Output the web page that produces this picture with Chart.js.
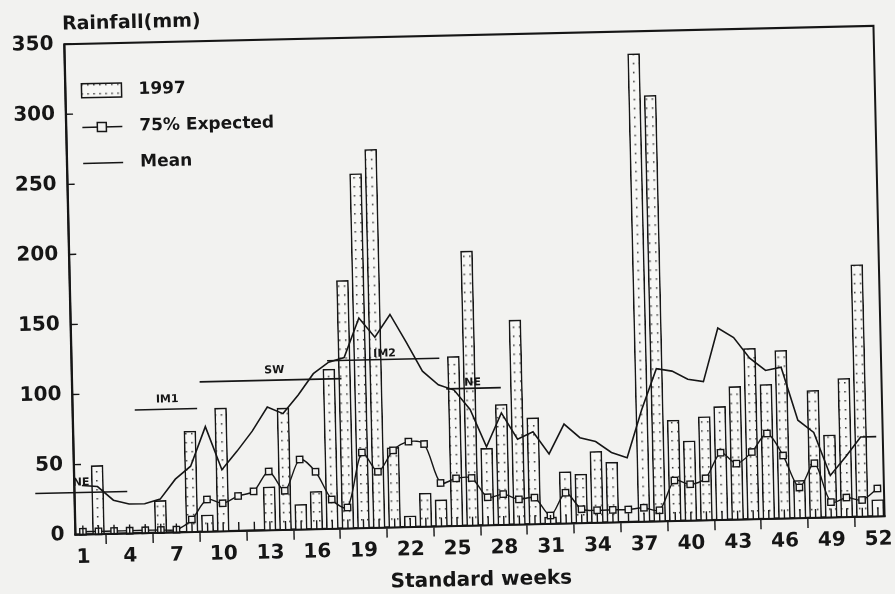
<!DOCTYPE html>
<html>
<head>
<meta charset="utf-8">
<title>Rainfall by standard week</title>
<script src="https://cdn.jsdelivr.net/npm/chart.js@4.4.1/dist/chart.umd.min.js"></script>
<style>
  html, body { margin: 0; padding: 0; background: #f2f2f0; }
  canvas { display: block; }
</style>
</head>
<body>
<canvas id="rain" width="895" height="594"></canvas>
<script>
// standard weeks and the three series
const weeks = [1, 2, 3, 4, 5, 6, 7, 8, 9, 10, 11, 12, 13, 14, 15, 16, 17, 18, 19, 20, 21, 22, 23, 24, 25, 26,
  27, 28, 29, 30, 31, 32, 33, 34, 35, 36, 37, 38, 39, 40, 41, 42, 43, 44, 45, 46, 47, 48, 49, 50, 51, 52]
const rain1997 = [0, 49, 0, 0, 0, 23, 0, 72, 12, 88, 0, 0, 31, 87, 18, 27, 114, 177, 253, 270, 57, 8, 24, 19, 121, 196,
  55, 86, 146, 76, 5, 37, 35, 51, 43, 0, 334, 304, 72, 57, 74, 81, 95, 122, 96, 120, 27, 91, 59, 99, 180, 12]
const expected75 = [2, 2, 2, 2, 2, 2, 2, 9, 23, 20, 25, 28, 42, 28, 50, 41, 21, 15, 54, 40, 55, 61, 59, 31, 34, 34,
  20, 22, 18, 19, 6, 22, 10, 9, 9, 9, 10, 8, 29, 26, 30, 48, 40, 48, 61, 45, 22, 39, 11, 14, 12, 20]
const meanRain = [35, 34, 24, 21, 21, 24, 38, 47, 75, 44, 57, 71, 88, 83, 96, 111, 119, 122, 150, 136, 152, 132, 111, 101, 97, 83,
  56, 80, 61, 66, 50, 71, 61, 58, 50, 46, 80, 109, 107, 101, 99, 137, 130, 115, 106, 108, 70, 61, 30, 43, 57, 57]

const weekTicks = [1, 4, 7, 10, 13, 16, 19, 22, 25, 28, 31, 34, 37, 40, 43, 46, 49, 52]
const rainTicks = [0, 50, 100, 150, 200, 250, 300, 350]

// monsoon season bars drawn over the plot (weeks, mm)
const seasonNames = ['NE', 'IM1', 'SW', 'IM2', 'NE']
const seasonStart = [-2.0, 4.5, 8.7, 16.9, 24.5]
const seasonEnd = [3.9, 8.5, 17.8, 24.1, 28.0]
const seasonLevel = [30, 88, 107, 120, 98]
const seasonTextWeek = [0.95, 6.6, 13.5, 20.6, 26.2]
const seasonTextLevel = [37, 95, 114, 124, 102]

const ink = '#161616'
const paper = '#f2f2f0'
const face = "'DejaVu Sans', sans-serif"
const tilt = -1.3 * Math.PI / 180   // the scan is slightly rotated

Chart.defaults.font.family = face
Chart.defaults.color = ink

const canvas = document.getElementById('rain')
const ctx = canvas.getContext('2d')

function dotPattern() {
  const c = document.createElement('canvas')
  c.width = 6
  c.height = 9
  const p = c.getContext('2d')
  p.fillStyle = '#f7f7f5'
  p.fillRect(0, 0, 6, 9)
  p.fillStyle = '#333'
  p.fillRect(2, 4, 1.5, 1.5)
  return ctx.createPattern(c, 'repeat')
}
const barFill = dotPattern()

function drawSeasons(chart) {
  const { ctx } = chart
  const xs = chart.scales.x
  const ys = chart.scales.y
  ctx.save()
  ctx.strokeStyle = ink
  ctx.fillStyle = ink
  ctx.lineWidth = 1.6
  ctx.font = `bold 11px ${face}`
  ctx.textAlign = 'center'
  ctx.textBaseline = 'middle'
  seasonNames.forEach((name, i) => {
    const y = ys.getPixelForValue(seasonLevel[i])
    ctx.beginPath()
    ctx.moveTo(xs.getPixelForValue(seasonStart[i]), y)
    ctx.lineTo(xs.getPixelForValue(seasonEnd[i]), y)
    ctx.stroke()
    ctx.fillText(name, xs.getPixelForValue(seasonTextWeek[i]), ys.getPixelForValue(seasonTextLevel[i]))
  })
  ctx.restore()
}

function drawFrame(chart) {
  const { ctx, chartArea: a } = chart
  const xs = chart.scales.x
  const ys = chart.scales.y
  ctx.save()
  ctx.strokeStyle = ink
  ctx.lineWidth = 2
  ctx.strokeRect(a.left, a.top, a.right - a.left, a.bottom - a.top)
  ctx.lineWidth = 1.4
  ctx.beginPath()
  rainTicks.forEach(v => {
    const y = ys.getPixelForValue(v)
    ctx.moveTo(a.left, y)
    ctx.lineTo(a.left + 7, y)
  })
  weeks.forEach(w => {
    const x = xs.getPixelForValue(w)
    ctx.moveTo(x, a.bottom)
    ctx.lineTo(x, a.bottom - 9)
  })
  ctx.stroke()
  ctx.restore()
}

function drawLegend(chart) {
  const { ctx, chartArea: a } = chart
  const lx = a.left + 16
  const rows = [a.top + 47, a.top + 83.6, a.top + 119.6]
  ctx.save()
  ctx.strokeStyle = ink
  ctx.lineWidth = 1.5
  ctx.fillStyle = barFill
  ctx.fillRect(lx, rows[0] - 7, 40, 14)
  ctx.strokeRect(lx, rows[0] - 7, 40, 14)

  ctx.beginPath()
  ctx.moveTo(lx, rows[1])
  ctx.lineTo(lx + 40, rows[1])
  ctx.moveTo(lx, rows[2])
  ctx.lineTo(lx + 40, rows[2])
  ctx.stroke()
  ctx.fillStyle = paper
  ctx.fillRect(lx + 15, rows[1] - 4.5, 9, 9)
  ctx.strokeRect(lx + 15, rows[1] - 4.5, 9, 9)

  ctx.fillStyle = ink
  ctx.font = `bold 17px ${face}`
  ctx.textBaseline = 'middle'
  ctx.fillText('1997', a.left + 73, rows[0])
  ctx.fillText('75% Expected', a.left + 73, rows[1])
  ctx.fillText('Mean', a.left + 73, rows[2])
  ctx.restore()
}

function drawTitles(chart) {
  const { ctx, chartArea: a } = chart
  ctx.save()
  ctx.fillStyle = ink
  ctx.textBaseline = 'middle'
  ctx.font = `bold 19px ${face}`
  ctx.textAlign = 'left'
  ctx.fillText('Rainfall(mm)', a.left - 2, 16)
  ctx.font = `bold 20px ${face}`
  ctx.textAlign = 'center'
  ctx.fillText('Standard weeks', (a.left + a.right) / 2, 581)
  ctx.restore()
}

const scanPage = {
  id: 'scanPage',
  beforeDraw(chart) {
    const { ctx, width, height } = chart
    ctx.save()
    ctx.fillStyle = paper
    ctx.fillRect(0, 0, width, height)
    ctx.translate(width / 2, height / 2)
    ctx.rotate(tilt)
    ctx.translate(-width / 2, -height / 2)
  },
  afterDatasetsDraw(chart) {
    drawSeasons(chart)
  },
  afterDraw(chart) {
    drawFrame(chart)
    drawLegend(chart)
    drawTitles(chart)
    chart.ctx.restore()
  }
}

const chart = new Chart(ctx, {
  type: 'bar',
  data: {
    datasets: [
      {
        type: 'line',
        label: '75% Expected',
        data: weeks.map((w, i) => ({ x: w, y: expected75[i] })),
        order: 1,
        borderColor: ink,
        borderWidth: 1.4,
        tension: 0.3,
        pointStyle: 'rect',
        pointRadius: 4.5,
        pointBorderWidth: 1.4,
        pointBorderColor: ink,
        pointBackgroundColor: paper,
        clip: false
      },
      {
        type: 'line',
        label: 'Mean',
        data: weeks.map((w, i) => ({ x: w, y: meanRain[i] })),
        order: 2,
        borderColor: ink,
        borderWidth: 1.6,
        pointRadius: 0,
        tension: 0
      },
      {
        type: 'bar',
        label: '1997',
        data: weeks.map((w, i) => ({ x: w, y: rain1997[i] })),
        order: 3,
        backgroundColor: barFill,
        borderColor: ink,
        borderWidth: 1.6,
        barThickness: 12,
        clip: false
      }
    ]
  },
  options: {
    responsive: false,
    animation: false,
    devicePixelRatio: 1,
    layout: { padding: { left: 0, top: 35.6, right: 15.5, bottom: 0 } },
    plugins: {
      legend: { display: false },
      tooltip: { enabled: false }
    },
    scales: {
      x: {
        type: 'linear',
        min: 0.525,
        max: 52.42,
        offset: false,
        afterBuildTicks: scale => {
          scale.ticks = weekTicks.map(value => ({ value }))
        },
        afterFit: scale => {
          scale.height = 67.8
        },
        grid: {
          drawOnChartArea: false,
          drawTicks: true,
          tickLength: 10,
          color: ink,
          lineWidth: 1.4
        },
        border: { display: true, color: ink, width: 2 },
        ticks: {
          color: ink,
          padding: 1,
          maxRotation: 0,
          autoSkip: false,
          font: { size: 20, weight: 'bold' }
        }
      },
      y: {
        min: 0,
        max: 350,
        afterFit: scale => {
          scale.width = 70.3
        },
        grid: { drawOnChartArea: false, drawTicks: false },
        border: { display: true, color: ink, width: 2 },
        ticks: {
          stepSize: 50,
          color: ink,
          padding: 11,
          font: { size: 20, weight: 'bold' }
        }
      }
    }
  },
  plugins: [scanPage]
})
</script>
</body>
</html>
